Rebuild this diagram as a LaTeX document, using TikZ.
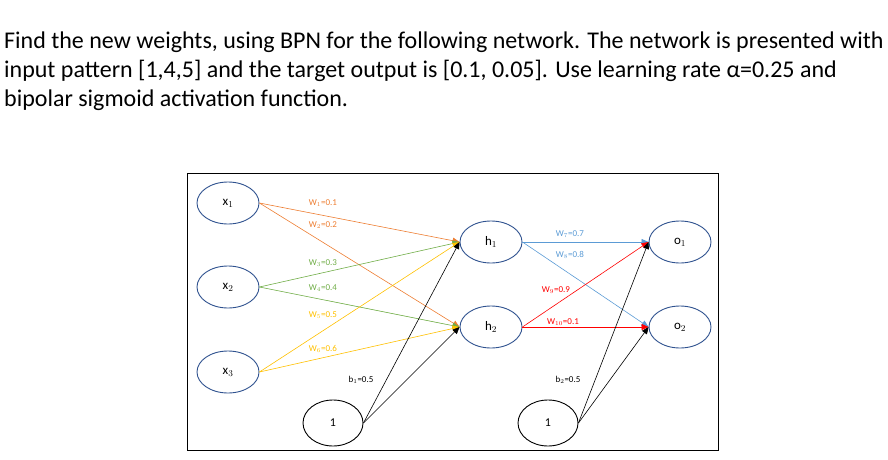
\documentclass[tikz,border=0pt]{standalone}
\usepackage{fontspec}
\setmainfont{Carlito}
\usetikzlibrary{shapes.geometric,arrows.meta}
\definecolor{cor}{RGB}{237,125,49}
\definecolor{cgr}{RGB}{112,173,71}
\definecolor{cgo}{RGB}{255,192,0}
\definecolor{cbl}{RGB}{91,155,213}
\definecolor{cnb}{RGB}{47,82,143}
\begin{document}
\begin{tikzpicture}[x=1pt,y=-1pt,
  neu/.style={ellipse,draw=cnb,line width=0.9pt,minimum width=62pt,minimum height=42pt,inner sep=0pt,font=\fontsize{13}{14}\selectfont},
  bias/.style={ellipse,draw=black,line width=0.9pt,minimum width=60pt,minimum height=46pt,inner sep=0pt,font=\fontsize{12}{13}\selectfont},
  con/.style={line width=0.6pt,-{Triangle[length=7pt,width=6pt]}},
  lab/.style={font=\fontsize{9}{10}\selectfont,inner sep=0pt}]
\useasboundingbox (0,0) rectangle (888,460);
\node[anchor=west,font=\fontsize{24}{26}\selectfont,inner sep=0pt] (t1) at (4,42) {Find the new weights, using BPN for the following network. The network is presented with};
\node[anchor=west,font=\fontsize{24}{26}\selectfont,inner sep=0pt] (t2) at (4,71) {input pattern [1,4,5] and the target output is [0.1, 0.05]. Use learning rate α=0.25 and};
\node[anchor=west,font=\fontsize{24}{26}\selectfont,inner sep=0pt] (t3) at (4,100) {bipolar sigmoid activation function.};
\draw[line width=0.8pt] (187,173) rectangle (718,450);
\node[neu] (x1) at (228,203) {x$_1$};
\node[neu] (x2) at (228,287) {x$_2$};
\node[neu] (x3) at (228,372) {x$_3$};
\node[neu] (h1) at (491,242) {h$_1$};
\node[neu] (h2) at (491,327) {h$_2$};
\node[neu] (o1) at (680,242) {o$_1$};
\node[neu] (o2) at (680,327) {o$_2$};
\node[bias] (b1) at (333,423) {1};
\node[bias] (b2) at (548,423) {1};
\draw[con,cor] (x1.east) -- (h1.west);
\draw[con,cor] (x1.east) -- (h2.west);
\draw[con,cgr] (x2.east) -- (h1.west);
\draw[con,cgr] (x2.east) -- (h2.west);
\draw[con,cgo] (x3.east) -- (h1.west);
\draw[con,cgo] (x3.east) -- (h2.west);
\draw[con,black] (b1.east) -- (h1.west);
\draw[con,black] (b1.east) -- (h2.west);
\draw[con,cbl] (h1.east) -- (o1.west);
\draw[con,cbl] (h1.east) -- (o2.west);
\draw[con,red] (h2.east) -- (o1.west);
\draw[con,red] (h2.east) -- (o2.west);
\draw[con,black] (b2.east) -- (o1.west);
\draw[con,black] (b2.east) -- (o2.west);
\node[lab,text=cor] (w1) at (323,203) {W$_1$=0.1};
\node[lab,text=cor] (w2) at (323,225) {W$_2$=0.2};
\node[lab,text=cgr] (w3) at (323,263) {W$_3$=0.3};
\node[lab,text=cgr] (w4) at (323,288) {W$_4$=0.4};
\node[lab,text=cgo] (w5) at (323,315) {W$_5$=0.5};
\node[lab,text=cgo] (w6) at (323,349) {W$_6$=0.6};
\node[lab] (lb1) at (361,380) {b$_1$=0.5};
\node[lab,text=cbl] (w7) at (570,234) {W$_7$=0.7};
\node[lab,text=cbl] (w8) at (570,255) {W$_8$=0.8};
\node[lab,text=red] (w9) at (556,290) {W$_9$=0.9};
\node[lab,text=red] (w10) at (563,322) {W$_{10}$=0.1};
\node[lab] (lb2) at (568,380) {b$_2$=0.5};
\end{tikzpicture}
\end{document}
